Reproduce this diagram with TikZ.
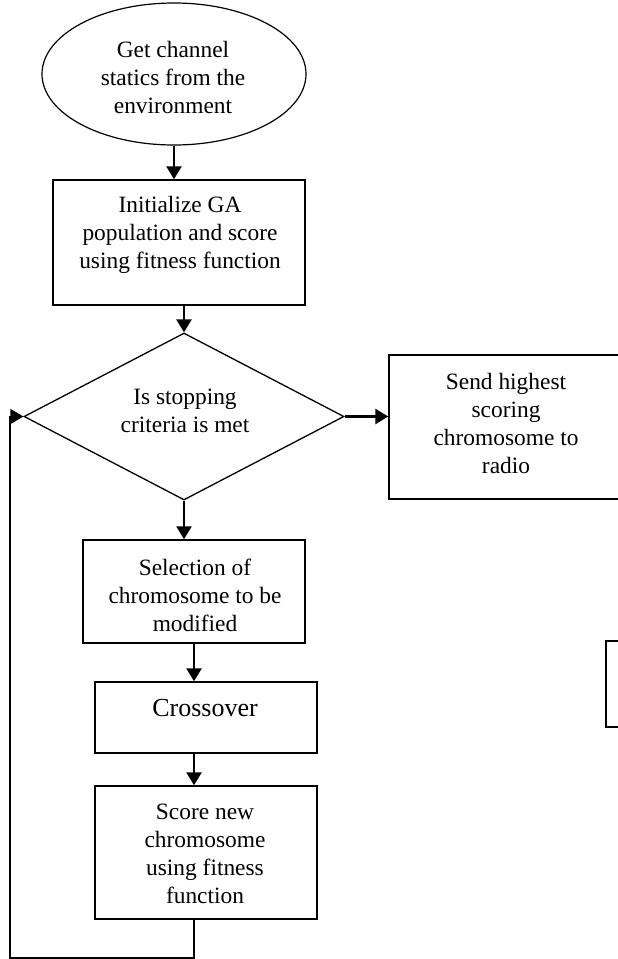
\documentclass[tikz,border=0pt]{standalone}
\usepackage{fontspec}
\setmainfont{Liberation Serif}
\usetikzlibrary{arrows.meta,shapes.geometric}
\begin{document}
\begin{tikzpicture}[x=1pt,y=-1pt,
  boxshape/.style={draw,line width=1.5pt,inner sep=0pt,rectangle},
  txt/.style={align=center,font=\fontsize{23.4}{28}\selectfont,inner sep=0pt},
  bigtxt/.style={align=center,font=\fontsize{26}{31}\selectfont,inner sep=0pt},
  flow/.style={line width=2.6pt,-{Triangle[width=15pt,length=13pt]}},
  loopline/.style={line width=1.3pt,-{Triangle[width=15pt,length=13pt]}}]
\useasboundingbox (0,0) rectangle (618,959);
\clip (0,0) rectangle (618,959);
% shapes
\node[draw,ellipse,line width=1.2pt,inner sep=0pt,minimum width=264pt,minimum height=142pt] (ell) at (174,74) {};
\node[boxshape,minimum width=252pt,minimum height=125pt] (init) at (179,242.5) {};
\node[draw,diamond,line width=1.3pt,inner sep=0pt,minimum width=320pt,minimum height=167pt] (dia) at (184,416.5) {};
\node[boxshape,minimum width=232pt,minimum height=144pt] (send) at (505,427) {};
\node[boxshape,minimum width=222pt,minimum height=103pt] (sel) at (194,591.5) {};
\node[boxshape,minimum width=222pt,minimum height=71pt] (cross) at (206,717.5) {};
\node[boxshape,minimum width=222pt,minimum height=133pt] (score) at (206,852.5) {};
\node[boxshape,minimum width=24pt,minimum height=86pt] (edgebox) at (618,684) {};
% texts
\node[txt] (tell) at (173,77) {Get channel\\statics from the\\environment};
\node[txt] (tinit) at (180,235) {Initialize GA\\population and score\\using fitness function};
\node[txt] (tdia) at (185,411) {Is stopping\\criteria is met};
\node[txt] (tsend) at (506,423) {Send highest\\scoring\\chromosome to\\radio};
\node[txt] (tsel) at (195,595) {Selection of\\chromosome to be\\modified};
\node[bigtxt] (tcross) at (205,708) {Crossover};
\node[txt] (tscore) at (205,854) {Score new\\chromosome\\using fitness\\function};
% connectors
\coordinate (lp) at (10,958);
\draw[flow] (ell.south) -- (ell.south |- init.north);
\draw[flow] (dia.north |- init.south) -- (dia.north);
\draw[flow] (dia.east) -- (dia.east -| send.west);
\draw[flow] (dia.south) -- (dia.south |- sel.north);
\draw[flow] (sel.south) -- (sel.south |- cross.north);
\draw[flow] (sel.south |- cross.south) -- (sel.south |- score.north);
\draw[loopline] (sel.south |- score.south) -- (sel.south |- lp) -- (lp) -- (lp |- dia.west) -- (dia.west);
\end{tikzpicture}
\end{document}
